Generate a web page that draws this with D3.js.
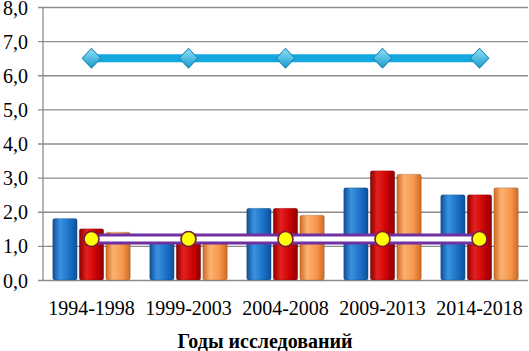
<!DOCTYPE html>
<html>
<head>
<meta charset="utf-8">
<script src="https://cdn.jsdelivr.net/npm/d3@7"></script>
<style>
  body { margin: 0; background: #fff; }
  text { font-family: "Times New Roman", "Liberation Serif", serif; fill: #000; }
</style>
</head>
<body>
<svg id="chart" width="529" height="351"></svg>
<script>
// data
var periods = ['1994-1998', '1999-2003', '2004-2008', '2009-2013', '2014-2018'];
var seriesBlue = [1.8, 1.3, 2.1, 2.7, 2.5];
var seriesRed = [1.5, 1.2, 2.1, 3.2, 2.5];
var seriesOrange = [1.4, 1.3, 1.9, 3.1, 2.7];
var lineTop = [6.5, 6.5, 6.5, 6.5, 6.5];
var lineBottom = [1.2, 1.2, 1.2, 1.2, 1.2];
var yTicks = [0, 1, 2, 3, 4, 5, 6, 7, 8];
var xTitle = 'Годы исследований';

var svg = d3.select('#chart');
var padding = { t: 7, r: 1, b: 71, l: 43 };
var chartWidth = +svg.attr('width') - padding.l - padding.r;
var chartHeight = +svg.attr('height') - padding.t - padding.b;
var serif = '"Times New Roman", "Liberation Serif", serif';

var defs = svg.append('defs');
function barGradient(id, dark, mid, light) {
  var g = defs.append('linearGradient').attr('id', id)
    .attr('x1', '0%').attr('x2', '100%').attr('y1', '0%').attr('y2', '0%');
  g.append('stop').attr('offset', '0%').attr('stop-color', dark);
  g.append('stop').attr('offset', '30%').attr('stop-color', light);
  g.append('stop').attr('offset', '70%').attr('stop-color', mid);
  g.append('stop').attr('offset', '100%').attr('stop-color', dark);
}
barGradient('gBlue', '#0d4f9a', '#1a6fc4', '#3a92e0');
barGradient('gRed', '#8a0000', '#c80000', '#e62020');
barGradient('gOrange', '#d06a20', '#f6954a', '#fbb271');

var diamondGrad = defs.append('linearGradient').attr('id', 'gDiamond')
  .attr('x1', '0%').attr('x2', '0%').attr('y1', '0%').attr('y2', '100%');
diamondGrad.append('stop').attr('offset', '0%').attr('stop-color', '#8fe0f8');
diamondGrad.append('stop').attr('offset', '100%').attr('stop-color', '#1a9ccf');

var chartG = svg.append('g')
  .attr('transform', 'translate(' + [padding.l, padding.t] + ')');

var yScale = d3.scaleLinear().domain([0, 8]).range([chartHeight, 0]);
var xScale = d3.scaleBand().domain(periods).range([0, chartWidth]);
var barKeys = ['gBlue', 'gRed', 'gOrange'];
var xInner = d3.scaleBand().domain(barKeys).range([xScale.bandwidth() * 0.1, xScale.bandwidth() * 0.9]).paddingInner(0.08);

// grid + y axis
var yAxis = d3.axisLeft(yScale).tickValues(yTicks).tickSize(-chartWidth).tickPadding(15)
  .tickFormat(function(d) { return d3.format('.1f')(d).replace('.', ','); });
var yAxisG = chartG.append('g').call(yAxis).attr('font-family', serif);
yAxisG.select('.domain').remove();
yAxisG.selectAll('.tick line').attr('stroke', '#8c8c8c').attr('stroke-width', 1.3).attr('x1', -5);
yAxisG.selectAll('.tick text').style('font-size', '20px').style('font-family', serif).attr('dy', '0.35em');
chartG.append('line')
  .attr('x1', 0).attr('x2', 0).attr('y1', 0).attr('y2', chartHeight)
  .attr('stroke', '#8c8c8c').attr('stroke-width', 1.3);

// x axis labels
var xAxisG = chartG.append('g').attr('transform', 'translate(0,' + chartHeight + ')')
  .call(d3.axisBottom(xScale).tickSize(0)).attr('font-family', serif);
xAxisG.select('.domain').remove();
xAxisG.selectAll('.tick text')
  .style('font-size', '20px').style('font-family', serif)
  .attr('y', 35).attr('dy', 0);

chartG.append('text')
  .attr('x', 265 - padding.l).attr('y', chartHeight + 68)
  .attr('text-anchor', 'middle')
  .style('font-size', '20px').style('font-weight', 'bold').style('font-family', serif)
  .text(xTitle);

// bars
var barData = [seriesBlue, seriesRed, seriesOrange];
barData.forEach(function(values, i) {
  chartG.selectAll('.bar' + i)
    .data(values)
    .enter()
    .append('rect')
    .attr('class', 'bar' + i)
    .attr('x', function(d, j) { return xScale(periods[j]) + xInner(barKeys[i]); })
    .attr('y', function(d) { return yScale(d); })
    .attr('width', xInner.bandwidth())
    .attr('height', function(d) { return chartHeight - yScale(d); })
    .attr('rx', 2)
    .attr('fill', 'url(#' + barKeys[i] + ')')
    .attr('stroke', 'rgba(0,0,0,0.15)')
    .attr('stroke-width', 1);
});

var xCenter = function(d, j) { return xScale(periods[j]) + xScale.bandwidth() / 2; };

// top line with diamonds
var lineGen = d3.line().x(xCenter).y(function(d) { return yScale(d); });
chartG.append('path').datum(lineTop)
  .attr('d', lineGen).attr('fill', 'none')
  .attr('stroke', '#15a7e0').attr('stroke-width', 8);
chartG.selectAll('.diamond').data(lineTop).enter()
  .append('path').attr('class', 'diamond')
  .attr('d', d3.symbol().type(d3.symbolDiamond).size(110))
  .attr('transform', function(d, j) { return 'translate(' + [xCenter(d, j), yScale(d)] + ') scale(1.65,1)'; })
  .attr('fill', 'url(#gDiamond)').attr('stroke', '#1b86b5').attr('stroke-width', 0.7);

// bottom double line with yellow circles
chartG.append('path').datum(lineBottom)
  .attr('d', lineGen).attr('fill', 'none')
  .attr('stroke', '#7030a0').attr('stroke-width', 11);
chartG.append('path').datum(lineBottom)
  .attr('d', lineGen).attr('fill', 'none')
  .attr('stroke', '#ffffff').attr('stroke-width', 5);
chartG.selectAll('.dot').data(lineBottom).enter()
  .append('circle').attr('class', 'dot')
  .attr('cx', xCenter).attr('cy', function(d) { return yScale(d); })
  .attr('r', 7.5)
  .attr('fill', '#ffff00').attr('stroke', '#7a1a3a').attr('stroke-width', 1.6);
</script>
</body>
</html>
